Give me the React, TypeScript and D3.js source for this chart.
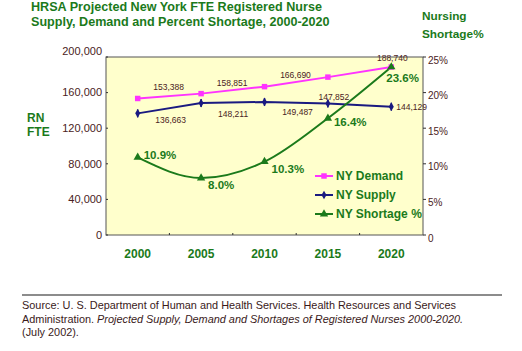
import React, { useEffect, useRef } from 'react';
import * as d3 from 'd3';

const years = ['2000', '2005', '2010', '2015', '2020'];
const demand = [153388, 158851, 166690, 177400, 188740];
const supply = [136663, 148211, 149487, 147852, 144129];
const shortage = [10.9, 8.0, 10.3, 16.4, 23.6];
// 2015 demand has no printed label in the original
const demandLabels = ['153,388', '158,851', '166,690', '', '188,740'];
const supplyLabels = ['136,663', '148,211', '149,487', '147,852', '144,129'];
const shortageLabels = ['10.9%', '8.0%', '10.3%', '16.4%', '23.6%'];
const leftTicks = [0, 40000, 80000, 120000, 160000, 200000];
const rightTicks = [0, 5, 10, 15, 20, 25];

const GREEN = '#1b7a1b';
const BROWN = '#4a2222';
const PINK = '#ff33ff';
const NAVY = '#1a1a80';

const App = () => {
	const ref = useRef(null);

	useEffect(() => {
		const svg = d3.select(ref.current);
		svg.selectAll('*').remove();

		const left = 106, right = 423, top = 57, bottom = 235;
		const font = 'Liberation Sans, Arial, sans-serif';

		let x = d3.scaleBand().domain(years).range([left, right]);
		let cx = (i) => x(years[i]) + x.bandwidth() / 2;
		let yL = d3.scaleLinear().domain([0, 200000]).range([bottom, top]);
		let yR = d3.scaleLinear().domain([0, 25]).range([bottom, top]);

		// title, two separate lines
		svg.append('text').attr('x', 31).attr('y', 11).attr('font-family', font).attr('font-weight', 'bold')
			.attr('font-size', 12.6).attr('fill', GREEN).text('HRSA Projected New York FTE Registered Nurse');
		svg.append('text').attr('x', 31).attr('y', 25.5).attr('font-family', font).attr('font-weight', 'bold')
			.attr('font-size', 12.6).attr('fill', GREEN).text('Supply, Demand and Percent Shortage, 2000-2020');

		let rt = svg.append('text').attr('font-family', font).attr('font-weight', 'bold')
			.attr('font-size', 11.8).attr('fill', GREEN);
		rt.append('tspan').attr('x', 422).attr('y', 20).text('Nursing');
		rt.append('tspan').attr('x', 422).attr('y', 38).text('Shortage%');

		let lt = svg.append('text').attr('font-family', font).attr('font-weight', 'bold')
			.attr('font-size', 12).attr('fill', GREEN);
		lt.append('tspan').attr('x', 27).attr('y', 122).text('RN');
		lt.append('tspan').attr('x', 27).attr('y', 136).text('FTE');

		// plot area
		svg.append('rect').attr('x', left).attr('y', top).attr('width', right - left).attr('height', bottom - top)
			.attr('fill', '#ffffcc').attr('stroke', '#555').attr('stroke-width', 1);

		// left axis
		svg.append('g').selectAll('line').data(leftTicks).enter().append('line')
			.attr('x1', left).attr('x2', left + 2).attr('y1', d => yL(d)).attr('y2', d => yL(d))
			.attr('stroke', '#333');
		svg.append('g').selectAll('text').data(leftTicks).enter().append('text')
			.attr('x', 102).attr('y', d => yL(d) - (d === 200000 ? 6 : 0)).attr('dy', '0.35em')
			.attr('text-anchor', 'end').attr('font-family', font).attr('font-size', 11).attr('fill', BROWN)
			.text(d => d3.format(',')(d));

		// right axis
		svg.append('g').selectAll('line').data(rightTicks).enter().append('line')
			.attr('x1', right).attr('x2', right + 3).attr('y1', d => yR(d)).attr('y2', d => yR(d))
			.attr('stroke', '#333');
		svg.append('g').selectAll('text').data(rightTicks).enter().append('text')
			.attr('x', 428).attr('y', d => yR(d) + 3).attr('dy', '0.35em')
			.attr('font-family', font).attr('font-size', 10).attr('fill', BROWN)
			.text(d => d === 0 ? '0' : d + '%');

		// x axis
		svg.append('g').selectAll('line').data(years.slice(1)).enter().append('line')
			.attr('x1', d => x(d)).attr('x2', d => x(d)).attr('y1', bottom).attr('y2', bottom - 2)
			.attr('stroke', '#333');
		svg.append('g').selectAll('text').data(years).enter().append('text')
			.attr('x', (d, i) => cx(i)).attr('y', 258).attr('text-anchor', 'middle')
			.attr('font-family', font).attr('font-weight', 'bold').attr('font-size', 12).attr('fill', GREEN)
			.text(d => d);

		// lines
		let lineL = d3.line().x((d, i) => cx(i)).y(d => yL(d));
		let lineR = d3.line().x((d, i) => cx(i)).y(d => yR(d)).curve(d3.curveMonotoneX);

		svg.append('path').attr('d', lineL(demand)).attr('fill', 'none').attr('stroke', PINK).attr('stroke-width', 2);
		svg.append('path').attr('d', lineL(supply)).attr('fill', 'none').attr('stroke', NAVY).attr('stroke-width', 2);
		svg.append('path').attr('d', lineR(shortage)).attr('fill', 'none').attr('stroke', GREEN).attr('stroke-width', 2);

		const square = d3.symbol().type(d3.symbolSquare).size(30);
		const diamond = d3.symbol().type(d3.symbolDiamond).size(22);
		const tri = d3.symbol().type(d3.symbolTriangle).size(30);

		svg.append('g').selectAll('path').data(demand).enter().append('path')
			.attr('d', square()).attr('transform', (d, i) => `translate(${cx(i)},${yL(d)})`).attr('fill', PINK);
		let sup = svg.append('g').selectAll('g').data(supply).enter().append('g')
			.attr('transform', (d, i) => `translate(${cx(i)},${yL(d)})`);
		sup.append('path').attr('d', diamond()).attr('fill', NAVY);
		sup.append('line').attr('y1', -4).attr('y2', 4).attr('stroke', NAVY).attr('stroke-width', 1.5);
		svg.append('g').selectAll('path').data(shortage).enter().append('path')
			.attr('d', tri()).attr('transform', (d, i) => `translate(${cx(i)},${yR(d)})`).attr('fill', GREEN);

		// value labels
		const demandPos = [[31, -11, 'middle'], [31, -11, 'middle'], [31, -12, 'middle'], [0, 0, 'middle'], [1, -9, 'middle']];
		const supplyPos = [[33, 7, 'middle'], [32, 11, 'middle'], [33, 10, 'middle'], [6, -6, 'middle'], [5, 0, 'start']];
		const shortPos = [[6, -2], [7, 7], [7, 7], [6, 4], [-5, 11]];

		svg.append('g').selectAll('text').data(demandLabels).enter().append('text')
			.attr('x', (d, i) => cx(i) + demandPos[i][0]).attr('y', (d, i) => yL(demand[i]) + demandPos[i][1])
			.attr('dy', '0.35em').attr('text-anchor', (d, i) => demandPos[i][2])
			.attr('font-family', font).attr('font-size', 8.5).attr('fill', BROWN).text(d => d);
		svg.append('g').selectAll('text').data(supplyLabels).enter().append('text')
			.attr('x', (d, i) => cx(i) + supplyPos[i][0]).attr('y', (d, i) => yL(supply[i]) + supplyPos[i][1])
			.attr('dy', '0.35em').attr('text-anchor', (d, i) => supplyPos[i][2])
			.attr('font-family', font).attr('font-size', 8.5).attr('fill', BROWN).text(d => d);
		svg.append('g').selectAll('text').data(shortageLabels).enter().append('text')
			.attr('x', (d, i) => cx(i) + shortPos[i][0]).attr('y', (d, i) => yR(shortage[i]) + shortPos[i][1])
			.attr('dy', '0.35em').attr('font-family', font).attr('font-weight', 'bold')
			.attr('font-size', 11.5).attr('fill', GREEN).text(d => d);

		// legend
		const legend = [['NY Demand', PINK, square], ['NY Supply', NAVY, diamond], ['NY Shortage %', GREEN, tri]];
		let lg = svg.append('g').selectAll('g').data(legend).enter().append('g')
			.attr('transform', (d, i) => `translate(315,${176 + i * 19})`);
		lg.append('line').attr('x1', 0).attr('x2', 18).attr('stroke', d => d[1]).attr('stroke-width', 2);
		lg.append('path').attr('d', d => d[2]()).attr('transform', 'translate(9,0)').attr('fill', d => d[1]);
		lg.append('text').attr('x', 21).attr('dy', '0.35em').attr('font-family', font).attr('font-weight', 'bold')
			.attr('font-size', 12).attr('fill', GREEN).text(d => d[0]);

		// source note
		svg.append('line').attr('x1', 22).attr('x2', 502).attr('y1', 295).attr('y2', 295)
			.attr('stroke', '#666').attr('stroke-width', 1.5);
		let src = svg.append('text').attr('font-family', font).attr('font-size', 10.9).attr('fill', '#3a1a1a');
		src.append('tspan').attr('x', 22).attr('y', 309)
			.text('Source: U. S. Department of Human and Health Services. Health Resources and Services');
		let l2 = src.append('tspan').attr('x', 22).attr('y', 322.5);
		l2.append('tspan').text('Administration.  ');
		l2.append('tspan').attr('font-style', 'italic')
			.text('Projected Supply, Demand and Shortages of Registered Nurses 2000-2020.');
		src.append('tspan').attr('x', 22).attr('y', 336).text('(July 2002).');
	}, []);

	return (
		<svg ref={ref} width={522} height={351} style={{ position: 'absolute', left: 0, top: 0, background: '#fff' }} />
	);
};

export default App;
